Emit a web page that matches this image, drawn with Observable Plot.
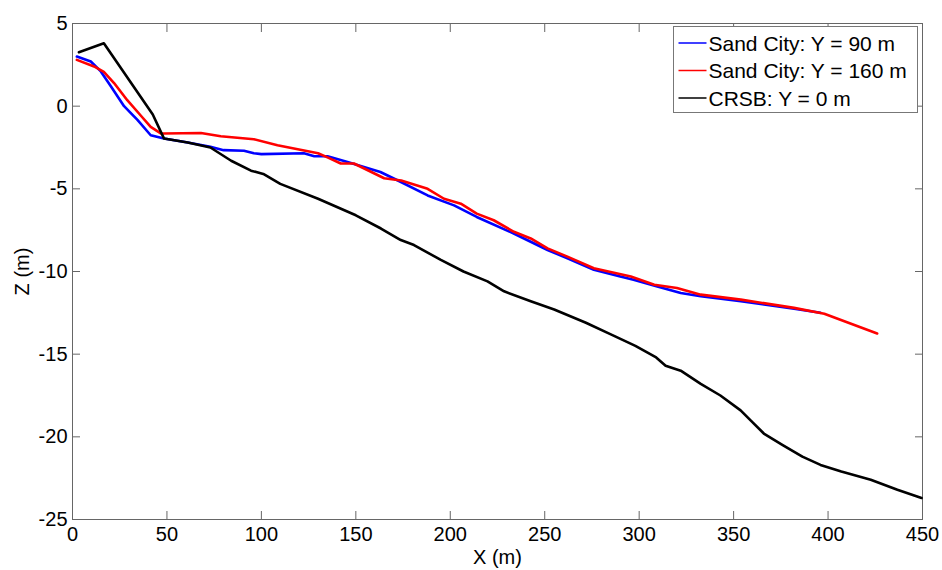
<!DOCTYPE html>
<html>
<head>
<meta charset="utf-8">
<script src="https://cdn.jsdelivr.net/npm/d3@7"></script>
<script src="https://cdn.jsdelivr.net/npm/@observablehq/plot@0.6"></script>
<style>
  html, body { margin: 0; padding: 0; background: #fff; }
</style>
</head>
<body>
<div id="wrap"></div>
<script>
// Series: Sand City Y = 90 m (blue)
const blueX = [2.3, 9.7, 15, 20.3, 27.3, 34.5, 41.4, 48.4, 61, 73, 80, 90.8, 96, 100, 122.5, 128, 135, 145.6, 163, 172, 188, 202, 214, 233.6, 251.5, 262, 276, 290, 297, 309.6, 322, 332.6, 353.8, 382, 396];
const blueZ = [3.0, 2.7, 2.1, 1.2, 0, -0.85, -1.76, -1.95, -2.2, -2.46, -2.66, -2.7, -2.85, -2.9, -2.85, -3.03, -3.03, -3.37, -3.98, -4.48, -5.4, -6.0, -6.7, -7.7, -8.7, -9.2, -9.9, -10.3, -10.5, -10.9, -11.3, -11.5, -11.8, -12.25, -12.5];
// Series: Sand City Y = 160 m (red)
const redX = [2.3, 11.4, 16.6, 22, 29, 36, 41.4, 46.7, 48.4, 68, 78.5, 96, 108.5, 130, 135, 142, 149, 165, 174, 188, 196.7, 205.6, 214, 223, 233.7, 242.6, 251.5, 262, 276, 295.6, 308, 320, 332.6, 353.8, 382, 398, 426];
const redZ = [2.8, 2.4, 2.07, 1.4, 0.36, -0.55, -1.25, -1.65, -1.65, -1.62, -1.82, -2.0, -2.36, -2.85, -3.1, -3.47, -3.47, -4.36, -4.5, -5.0, -5.6, -5.9, -6.5, -6.9, -7.6, -8.0, -8.6, -9.1, -9.8, -10.3, -10.8, -11.0, -11.4, -11.7, -12.2, -12.55, -13.75];
// Series: CRSB Y = 0 m (black)
const blackX = [3.4, 16.6, 42.5, 48.4, 61, 73, 84, 94.5, 101, 110, 130, 150, 163.3, 173.8, 180.8, 195, 207, 219.7, 228.5, 242.6, 255, 271.8, 285, 298, 309, 314, 322, 332.6, 343, 353.7, 359, 366, 376, 386.4, 396, 407, 422.6, 436.7, 449.5];
const blackZ = [3.26, 3.8, -0.5, -1.95, -2.2, -2.5, -3.3, -3.9, -4.1, -4.7, -5.6, -6.6, -7.4, -8.1, -8.4, -9.3, -10.0, -10.6, -11.2, -11.8, -12.3, -13.1, -13.8, -14.5, -15.2, -15.7, -16.0, -16.8, -17.5, -18.4, -19.0, -19.8, -20.5, -21.2, -21.7, -22.1, -22.6, -23.2, -23.7];

const xTicks = [0, 50, 100, 150, 200, 250, 300, 350, 400, 450];
const yTicks = [-25, -20, -15, -10, -5, 0, 5];
const seriesNames = ["Sand City: Y = 90 m", "Sand City: Y = 160 m", "CRSB: Y = 0 m"];
const seriesColors = ["#0000ff", "#ff0000", "#000000"];

const toRows = (xs, zs) => xs.map((x, i) => ({x, z: zs[i]}));
const blue = toRows(blueX, blueZ);
const red = toRows(redX, redZ);
const black = toRows(blackX, blackZ);

const font = "Liberation Sans, Arial, sans-serif";
const axisColor = "#666";
const plain = d => String(d);

const chart = Plot.plot({
  width: 942,
  height: 570,
  marginLeft: 72,
  marginRight: 20,
  marginTop: 23,
  marginBottom: 51,
  style: {fontFamily: font, background: "#fff", overflow: "visible"},
  x: {domain: [0, 450]},
  y: {domain: [-25, 5]},
  marks: [
    Plot.axisX({ticks: xTicks, tickSize: 0, tickPadding: 7, fontSize: 20, fill: "#000", tickFormat: plain, label: "X (m)", labelAnchor: "center", labelArrow: "none", labelOffset: 44}),
    Plot.axisY({ticks: yTicks, tickSize: 0, tickPadding: 5, fontSize: 20, fill: "#000", tickFormat: plain, label: "Z (m)", labelAnchor: "center", labelArrow: "none", labelOffset: 58}),
    Plot.axisX({ticks: xTicks, anchor: "bottom", tickSize: -8, tickFormat: () => "", label: null, stroke: axisColor}),
    Plot.axisX({ticks: xTicks, anchor: "top", tickSize: -8, tickFormat: () => "", label: null, stroke: axisColor}),
    Plot.axisY({ticks: yTicks, anchor: "left", tickSize: -8, tickFormat: () => "", label: null, stroke: axisColor}),
    Plot.axisY({ticks: yTicks, anchor: "right", tickSize: -8, tickFormat: () => "", label: null, stroke: axisColor}),
    Plot.frame({stroke: axisColor, strokeWidth: 1}),
    Plot.line(blue, {x: "x", y: "z", stroke: seriesColors[0], strokeWidth: 2.6}),
    Plot.line(red, {x: "x", y: "z", stroke: seriesColors[1], strokeWidth: 2.6}),
    Plot.line(black, {x: "x", y: "z", stroke: seriesColors[2], strokeWidth: 2.6})
  ]
});

const svg = d3.select(chart);
svg.selectAll("[aria-label='x-axis label'] text, [aria-label='y-axis label'] text").attr("font-size", 20).attr("fill", "#000");

// Legend box inside the plot (top-right), MATLAB style
const lg = svg.append("g").attr("class", "legend").attr("transform", "translate(673.5,26.5)")
  .attr("text-anchor", "start");
lg.append("rect").attr("width", 244).attr("height", 86).attr("fill", "#fff").attr("stroke", "#777").attr("stroke-width", 1);
seriesNames.forEach((name, i) => {
  const cy = 16.5 + i * 27.5;
  lg.append("line").attr("x1", 5).attr("x2", 33).attr("y1", cy).attr("y2", cy)
    .attr("stroke", seriesColors[i]).attr("stroke-width", 1.5);
  lg.append("text").attr("x", 35).attr("y", cy).attr("dy", "0.36em").attr("text-anchor", "start")
    .attr("font-family", font).attr("font-size", 21).attr("fill", "#000").text(name);
});

document.getElementById("wrap").appendChild(chart);
</script>
</body>
</html>
